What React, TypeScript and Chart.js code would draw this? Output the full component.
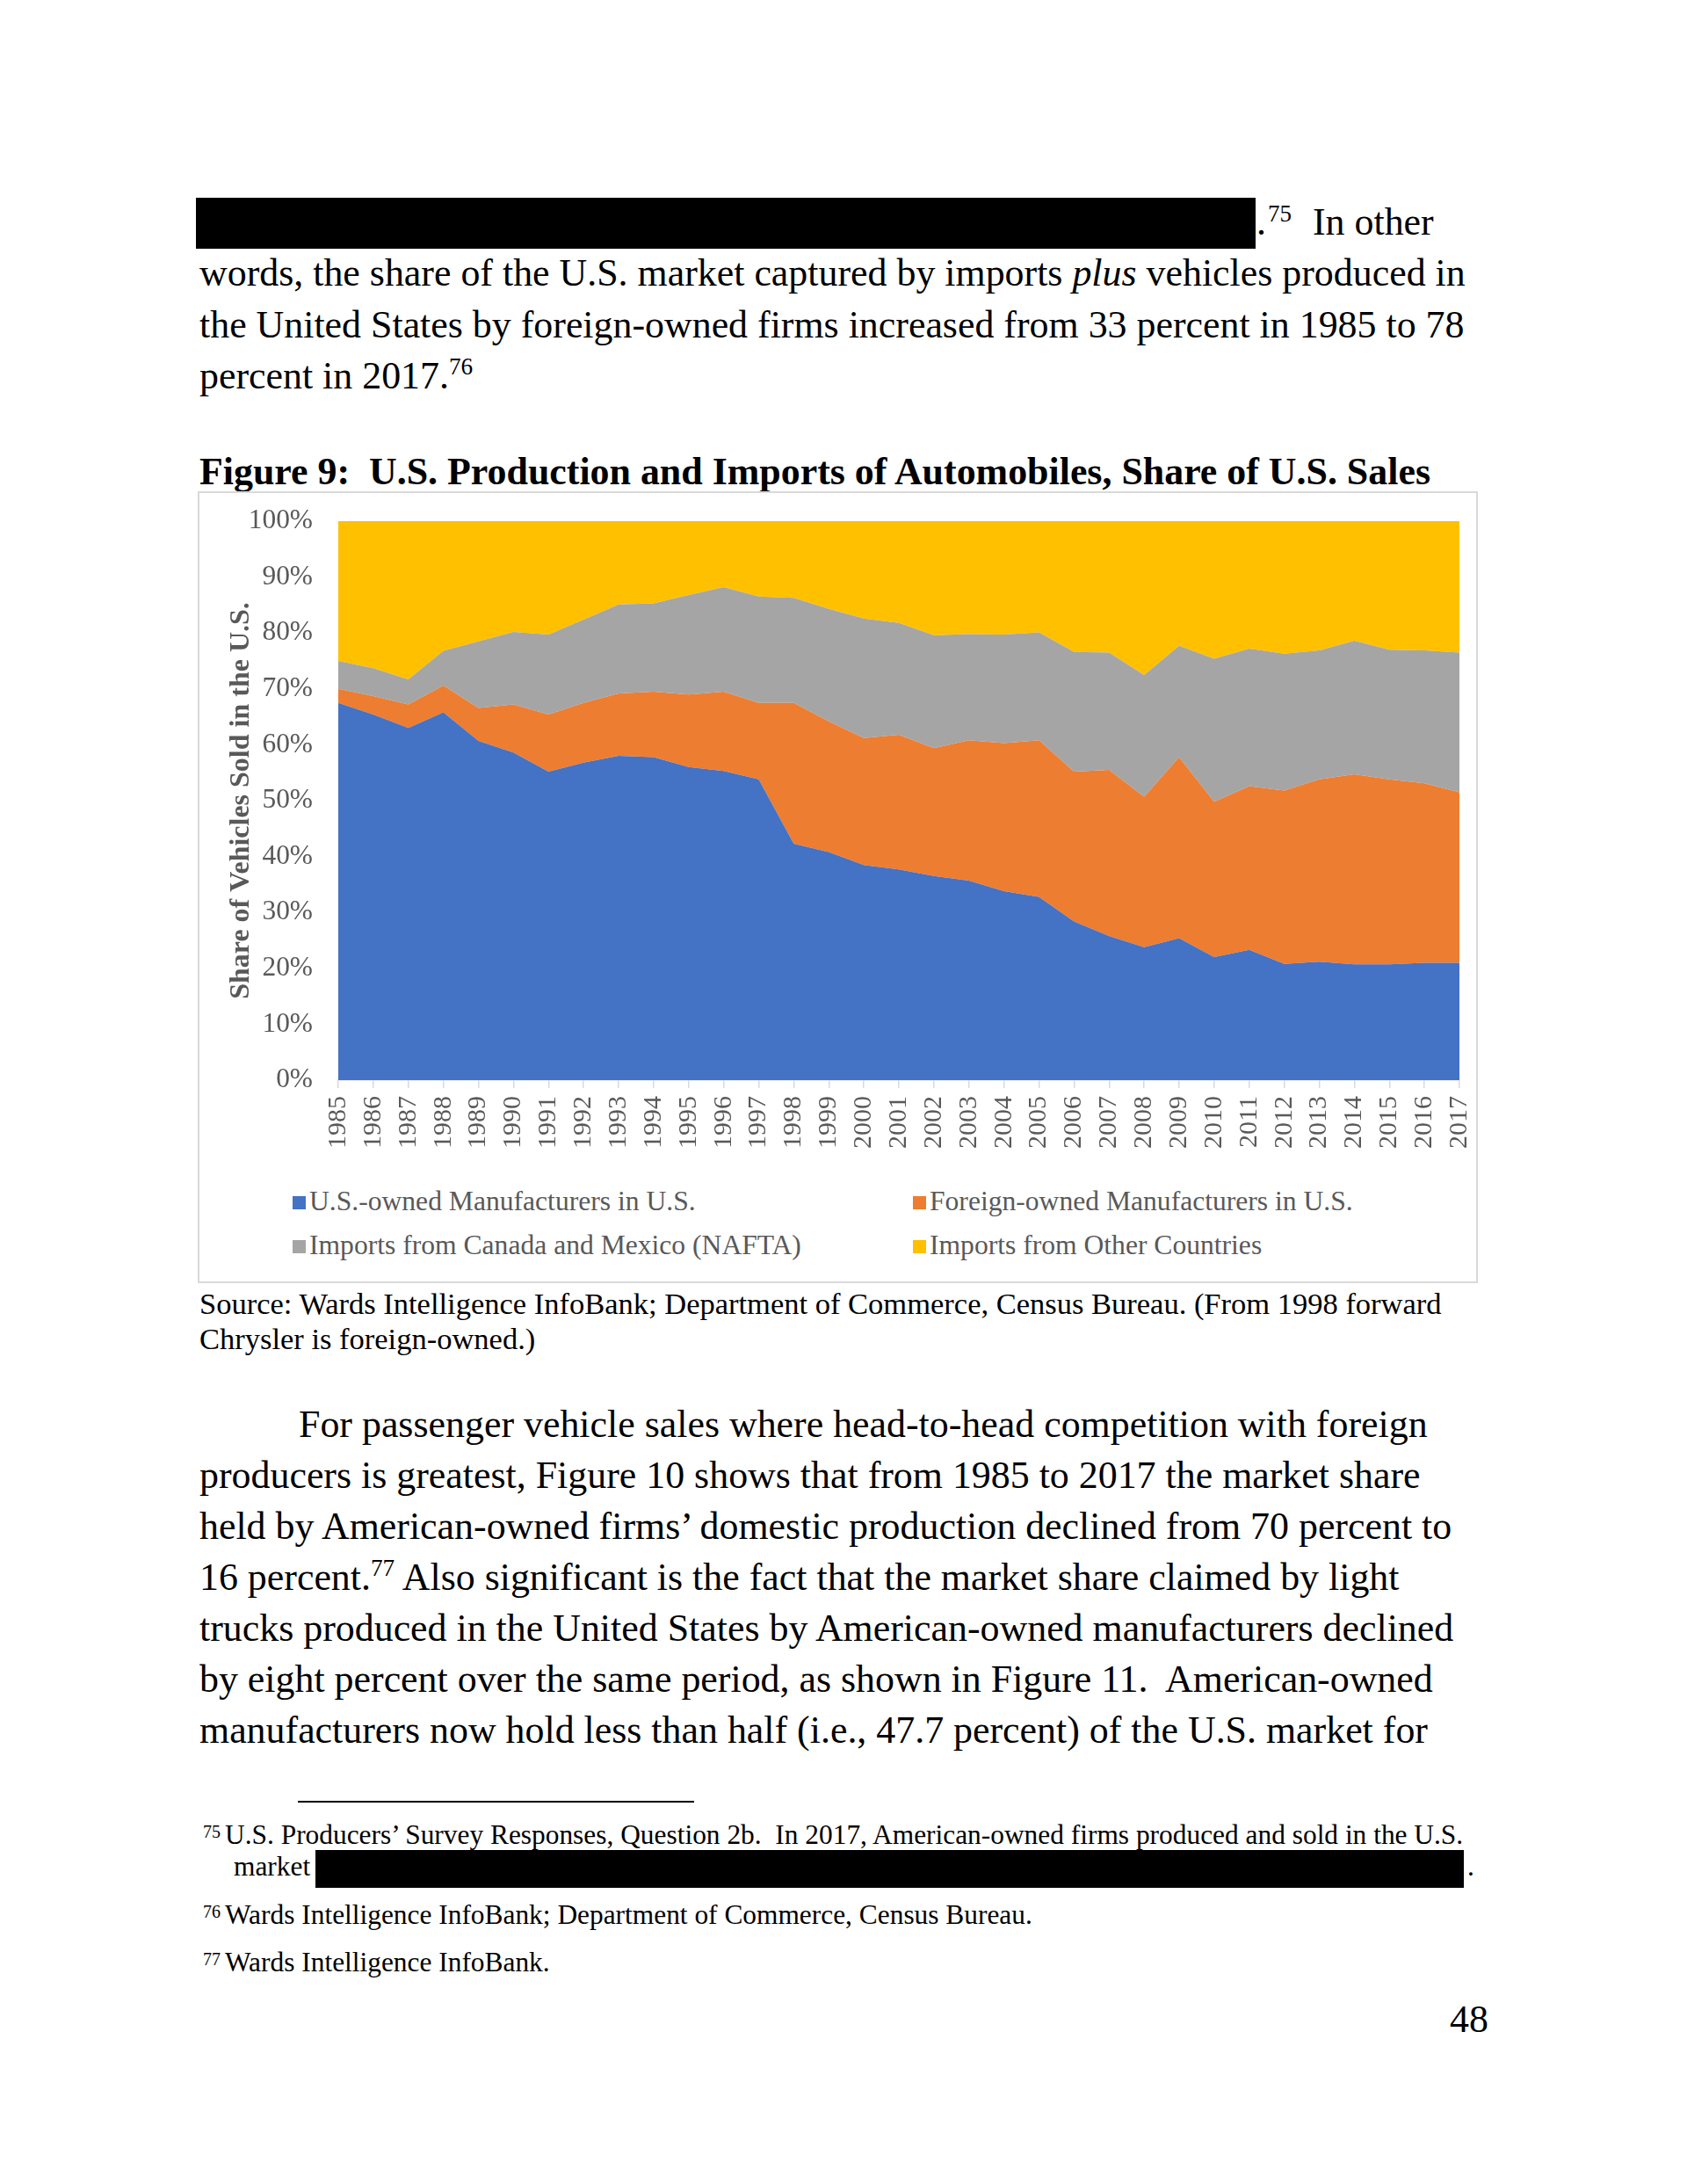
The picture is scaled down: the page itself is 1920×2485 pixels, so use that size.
import React, { useEffect, useRef } from 'react';
import { Chart, registerables } from 'chart.js';

Chart.register(...registerables);

const years = ['1985','1986','1987','1988','1989','1990','1991','1992','1993','1994','1995','1996','1997','1998','1999','2000','2001','2002','2003','2004','2005','2006','2007','2008','2009','2010','2011','2012','2013','2014','2015','2016','2017'];
const usOwned = [67.5,65.4,63.0,65.8,60.7,58.6,55.2,56.8,58.0,57.8,56.0,55.3,53.8,42.3,40.8,38.5,37.7,36.5,35.7,33.8,32.8,28.4,25.8,23.8,25.4,22.0,23.3,20.8,21.2,20.7,20.7,21.0,21.0];
const foreignOwned = [2.5,3.3,4.2,4.8,5.9,8.6,10.2,10.7,11.2,11.7,13.0,14.2,13.7,25.2,23.4,22.7,24.1,22.9,25.1,26.5,28.0,26.8,29.7,26.9,32.4,27.8,29.3,31.0,32.6,34.0,33.1,32.1,30.5];
const naftaImports = [5.0,5.0,4.5,6.2,11.9,13.0,14.3,14.9,15.9,15.8,17.8,18.7,19.0,18.8,20.1,21.4,20.0,20.2,19.0,19.4,19.3,21.4,21.0,21.8,19.9,25.6,24.6,24.5,23.1,23.9,23.2,23.8,25.0];
const otherImports = [25.0,26.3,28.3,23.2,21.5,19.8,20.3,17.6,14.9,14.7,13.2,11.8,13.5,13.7,15.7,17.4,18.2,20.4,20.2,20.3,19.9,23.4,23.5,27.5,22.3,24.6,22.8,23.7,23.1,21.4,23.0,23.1,23.5];
const seriesNames = ['U.S.-owned Manufacturers in U.S.', 'Foreign-owned Manufacturers in U.S.', 'Imports from Canada and Mexico (NAFTA)', 'Imports from Other Countries'];
const seriesColors = ['#4472C4', '#ED7D31', '#A5A5A5', '#FFC000'];
const yAxisTitle = 'Share of Vehicles Sold in the U.S.';

const SERIF = '"Liberation Serif", "Times New Roman", serif';
const BODY = 43.9;

type LineProps = { x: number; b: number; s?: number; bold?: boolean; color?: string; children?: React.ReactNode };
const Line = ({ x, b, s = BODY, bold, color = '#000', children }: LineProps) => (
  <div style={{ position: 'absolute', left: x, top: b - 0.8375 * s, fontSize: s, lineHeight: `${s}px`, fontWeight: bold ? 'bold' : 'normal', whiteSpace: 'pre', color, fontFamily: SERIF }}>{children}</div>
);
const Sup = ({ children }: { children: React.ReactNode }) => (
  <span style={{ fontSize: '0.62em', position: 'relative', top: '-0.6em', lineHeight: 0 }}>{children}</span>
);
const Box = ({ x, y, w, h, c = '#000' }: { x: number; y: number; w: number; h: number; c?: string }) => (
  <div style={{ position: 'absolute', left: x, top: y, width: w, height: h, background: c }} />
);

const zeroPad = (s: any) => { s.paddingTop = 0; s.paddingBottom = 0; s.paddingLeft = 0; s.paddingRight = 0; };

function AreaChart() {
  const ref = useRef<HTMLCanvasElement | null>(null);
  useEffect(() => {
    if (!ref.current) return;
    const values = [usOwned, foreignOwned, naftaImports, otherImports];
    const chart = new Chart(ref.current, {
      type: 'line',
      data: {
        labels: years,
        datasets: values.map((v, i) => ({
          label: seriesNames[i],
          data: v,
          backgroundColor: seriesColors[i],
          borderColor: seriesColors[i],
          borderWidth: 0,
          pointRadius: 0,
          pointHoverRadius: 0,
          tension: 0,
          fill: i === 0 ? 'origin' : '-1',
        })),
      },
      options: {
        animation: false,
        responsive: false,
        maintainAspectRatio: false,
        layout: { padding: { left: 0, top: 32, right: 18, bottom: 0 } },
        plugins: { legend: { display: false }, tooltip: { enabled: false } },
        scales: {
          x: {
            type: 'category',
            offset: false,
            grid: { display: true, drawOnChartArea: false, drawTicks: true, tickLength: 9, color: '#D9D9D9', lineWidth: 1.5 },
            border: { display: true, color: '#D9D9D9', width: 1.5 },
            ticks: { autoSkip: false, maxRotation: 90, minRotation: 90, padding: 9, color: '#595959', font: { family: SERIF, size: 30 } },
            afterFit: (s: any) => { s.height = 92; zeroPad(s); },
          },
          y: {
            stacked: true,
            min: 0,
            max: 100,
            grid: { display: false, drawTicks: false },
            border: { display: false },
            ticks: { stepSize: 10, padding: 29, color: '#595959', font: { family: SERIF, size: 31.4 }, callback: (v: any) => `${v}%` },
            title: { display: true, text: yAxisTitle, color: '#595959', font: { family: SERIF, size: 32, weight: 'bold' }, padding: { top: 29, bottom: 0 } },
            afterFit: (s: any) => { s.width = 158; zeroPad(s); },
          },
        },
      },
    } as any);
    return () => chart.destroy();
  }, []);
  return <canvas ref={ref} width={1452} height={760} style={{ position: 'absolute', left: 227, top: 561, width: 1452, height: 760 }} />;
}

export default function App() {
  const legendPos = [
    { x: 333, b: 1377 },
    { x: 1039, b: 1377 },
    { x: 333, b: 1427 },
    { x: 1039, b: 1427 },
  ];
  return (
    <div style={{ position: 'absolute', left: 0, top: 0, width: 1920, height: 2485, background: '#fff', fontFamily: SERIF, overflow: 'hidden' }}>
      <Box x={223} y={225} w={1206} h={58} />
      <Line x={1430} b={268}>.</Line>
      <Line x={1443} b={253} s={27}>75</Line>
      <Line x={1494} b={268}>In other</Line>
      <Line x={227} b={326}>words, the share of the U.S. market captured by imports <i>plus</i> vehicles produced in</Line>
      <Line x={227} b={385}>the United States by foreign-owned firms increased from 33 percent in 1985 to 78</Line>
      <Line x={227} b={443}>percent in 2017.<Sup>76</Sup></Line>
      <Line x={227} b={552} bold>{'Figure 9:  U.S. Production and Imports of Automobiles, Share of U.S. Sales'}</Line>

      <div style={{ position: 'absolute', left: 225, top: 559, width: 1457, height: 901, border: '2px solid #D9D9D9', boxSizing: 'border-box' }} />
      <AreaChart />
      {seriesNames.map((n, i) => (
        <React.Fragment key={n}>
          <Box x={legendPos[i].x} y={legendPos[i].b - 16} w={15} h={15} c={seriesColors[i]} />
          <Line x={legendPos[i].x + 19} b={legendPos[i].b} s={31.6} color="#595959">{n}</Line>
        </React.Fragment>
      ))}

      <Line x={227} b={1495} s={34.5}>Source: Wards Intelligence InfoBank; Department of Commerce, Census Bureau. (From 1998 forward</Line>
      <Line x={227} b={1535} s={34.5}>Chrysler is foreign-owned.)</Line>

      <Line x={340} b={1636}>For passenger vehicle sales where head-to-head competition with foreign</Line>
      <Line x={227} b={1694}>producers is greatest, Figure 10 shows that from 1985 to 2017 the market share</Line>
      <Line x={227} b={1752}>held by American-owned firms’ domestic production declined from 70 percent to</Line>
      <Line x={227} b={1810}>16 percent.<Sup>77</Sup> Also significant is the fact that the market share claimed by light</Line>
      <Line x={227} b={1868}>trucks produced in the United States by American-owned manufacturers declined</Line>
      <Line x={227} b={1926}>{'by eight percent over the same period, as shown in Figure 11.  American-owned'}</Line>
      <Line x={227} b={1984}>manufacturers now hold less than half (i.e., 47.7 percent) of the U.S. market for</Line>

      <Box x={339} y={2049} w={451} h={2} />
      <Line x={231} b={2091} s={20}>75</Line>
      <Line x={256} b={2098} s={31.4}>{'U.S. Producers’ Survey Responses, Question 2b.  In 2017, American-owned firms produced and sold in the U.S.'}</Line>
      <Line x={266} b={2134} s={31.4}>market</Line>
      <Box x={359} y={2105} w={1307} h={43} />
      <Line x={1670} b={2134} s={31.4}>.</Line>
      <Line x={231} b={2182} s={20}>76</Line>
      <Line x={256} b={2189} s={31.4}>Wards Intelligence InfoBank; Department of Commerce, Census Bureau.</Line>
      <Line x={231} b={2236} s={20}>77</Line>
      <Line x={256} b={2243} s={31.4}>Wards Intelligence InfoBank.</Line>

      <Line x={1650} b={2313}>48</Line>
    </div>
  );
}
